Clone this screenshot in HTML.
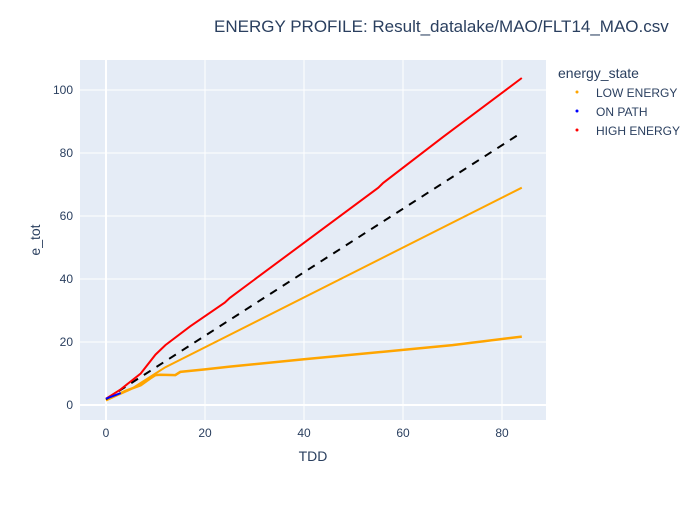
<!DOCTYPE html>
<html><head><meta charset="utf-8"><style>
body{margin:0;background:#fff;font-family:"Liberation Sans",sans-serif}
text{font-family:"Liberation Sans",sans-serif}
</style></head><body>
<svg id="chart" width="700" height="500">
<rect width="700" height="500" fill="#fff"/>
<rect x="80" y="60" width="466" height="360" fill="#e5ecf6"/>
<g id="grid"></g><g id="series"></g><g id="ticks"></g>
<text x="214" y="32" font-size="17" fill="#2a3f5f">ENERGY PROFILE: Result_datalake/MAO/FLT14_MAO.csv</text>
<text x="313" y="461" font-size="14" fill="#2a3f5f" text-anchor="middle">TDD</text>
<text x="40" y="240" font-size="14" fill="#2a3f5f" text-anchor="middle" transform="rotate(-90 40 240)">e_tot</text>
<g>
<text x="558" y="78" font-size="14" fill="#2a3f5f">energy_state</text>
<g><circle cx="577" cy="92" r="1.5" fill="orange"/><text x="596" y="97" font-size="12" fill="#2a3f5f">LOW ENERGY</text></g>
<g><circle cx="577" cy="111" r="1.5" fill="blue"/><text x="596" y="116" font-size="12" fill="#2a3f5f">ON PATH</text></g>
<g><circle cx="577" cy="130" r="1.5" fill="red"/><text x="596" y="135" font-size="12" fill="#2a3f5f">HIGH ENERGY</text></g>
</g>
</svg>
<script>
const xTicks=[0,20,40,60,80];
const yTicks=[0,20,40,60,80,100];
const highX=[0,3,7,10,12,17,24,25,40,55,56,68,84];
const highY=[2,5,10,16,19,25,32.5,34,51.5,69,70.5,85,103.8];
const refX=[0,84];
const refY=[1.8,86.5];
const lowUpperX=[0,5,8,10,12,84];
const lowUpperY=[1.5,5,8,10,12,69];
const lowLowerX=[0,4,7,9,10,11,14,15,20,25,40,60,70,84];
const lowLowerY=[1.5,4.5,6.3,8.5,9.5,9.6,9.5,10.5,11.3,12.2,14.5,17.5,19,21.7];
const onPathX=[0,1,2,3];
const onPathY=[2,2.6,3.2,3.8];
const X=v=>106+v*4.95, Y=v=>405-v*3.15;
const ns="http://www.w3.org/2000/svg";
function mk(tag,attrs,parent){const e=document.createElementNS(ns,tag);for(const k in attrs)e.setAttribute(k,attrs[k]);document.getElementById(parent).appendChild(e);return e;}
xTicks.forEach(t=>{
 const l=mk('line',{x1:X(t),x2:X(t),y1:60,y2:420,stroke:'#fff','stroke-width':t===0?2:1},'grid');
 
 
 const tx=mk('text',{x:X(t),y:437,'font-size':12,fill:'#2a3f5f','text-anchor':'middle'},'ticks');tx.textContent=t;
 
 
});
yTicks.forEach(t=>{
 const l=mk('line',{x1:80,x2:546,y1:Y(t),y2:Y(t),stroke:'#fff','stroke-width':t===0?2:1},'grid');
 
 
 const tx=mk('text',{x:73,y:Y(t)+4,'font-size':12,fill:'#2a3f5f','text-anchor':'end'},'ticks');tx.textContent=t;
 
 
});
function line(xs,ys,color,w,dash,name){
 const d=xs.map((x,i)=>(i?'L':'M')+X(x).toFixed(1)+','+Y(ys[i]).toFixed(1)).join('');
 const p=mk('path',{d:d,fill:'none',stroke:color,'stroke-width':w,'stroke-dasharray':dash||'none'},'series');
 
 
}
line(lowLowerX,lowLowerY,'orange',2.5,null,'low-energy-lower-line');
line(lowUpperX,lowUpperY,'orange',2,null,'low-energy-upper-line');
line(refX,refY,'#000',2,'8,7','reference-dashed-line');
line(highX,highY,'red',2,null,'high-energy-line');
line(onPathX,onPathY,'blue',2,null,'on-path-line');
</script>
</body></html>
